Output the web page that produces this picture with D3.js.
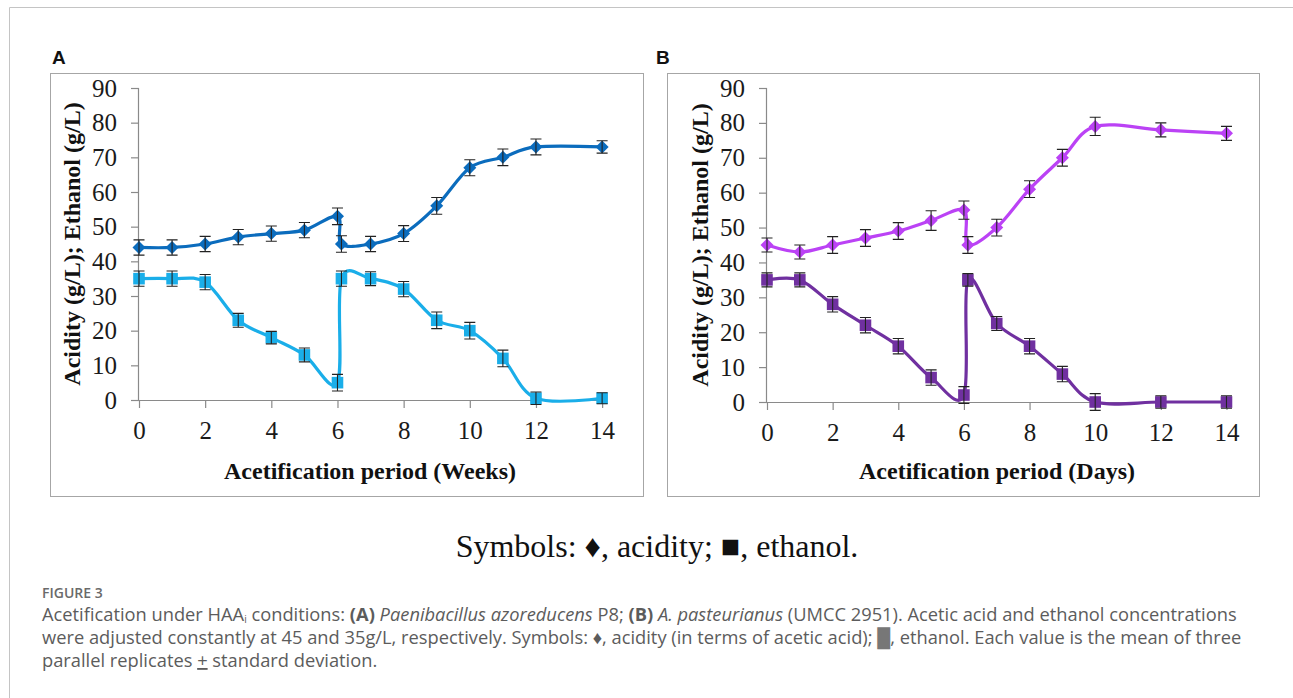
<!DOCTYPE html>
<html lang="en">
<head>
<meta charset="utf-8">
<title>Figure 3 - Acetification</title>
<script type="text/javascript" src="https://d3js.org/d3.v7.min.js"></script>
<style>
body { margin: 0; background: #fff; }
svg { display: block; }
.tick-label { font-family: "Liberation Serif", "Times New Roman", serif; font-size: 25px; fill: #1a1a1a; }
.axis-title { font-family: "Liberation Serif", "Times New Roman", serif; font-size: 24px; font-weight: bold; fill: #111; }
.panel-label { font-family: "Liberation Sans", Arial, sans-serif; font-size: 19px; font-weight: bold; fill: #111; }
.caption { font-family: "Open Sans", sans-serif; font-size: 18.3px; fill: #5c5c5c; }
</style>
</head>
<body>
<div id="chart"></div>
<script type="text/javascript">

// panel A : weeks
var weeksA     = [0, 1, 2, 3, 4, 5, 6, 6.12, 7, 8, 9, 10, 11, 12, 14];
var acidityA   = [44, 44, 45, 47, 48, 49, 53, 45, 45, 48, 56, 67, 70, 73, 73];
var acidityErrA = [2.2, 2.2, 2.2, 2.2, 2.2, 2.2, 2.4, 2.4, 2.2, 2.3, 2.4, 2.3, 2.4, 2.3, 1.8];
var ethanolA   = [35, 35, 34, 23, 18, 13, 5, 35, 35, 32, 23, 20, 12, 0.5, 0.5];
var ethanolErrA = [2.2, 2.2, 2.2, 2.0, 1.8, 2.0, 2.4, 2.2, 2.0, 2.2, 2.4, 2.4, 2.4, 1.8, 1.6];

// panel B : days
var daysB      = [0, 1, 2, 3, 4, 5, 6, 6.12, 7, 8, 9, 10, 12, 14];
var acidityB   = [45, 43, 45, 47, 49, 52, 55, 45, 50, 61, 70, 79, 78, 77];
var acidityErrB = [2.0, 2.0, 2.4, 2.4, 2.4, 2.8, 2.6, 2.4, 2.4, 2.4, 2.4, 2.6, 2.0, 2.0];
var ethanolB   = [35, 35, 28, 22, 16, 7, 2, 35, 22.5, 16, 8, 0, 0, 0];
var ethanolErrB = [2.0, 2.0, 2.2, 2.2, 2.2, 2.2, 2.4, 1.8, 2.0, 2.2, 2.2, 2.4, 1.8, 1.8];

var xTicks = [0, 2, 4, 6, 8, 10, 12, 14];
var yTicks = [0, 10, 20, 30, 40, 50, 60, 70, 80, 90];

var width = 1293, height = 698;

var svg = d3.select("#chart").append("svg")
    .attr("width", width)
    .attr("height", height);

// page frame
svg.append("path")
    .attr("d", "M9.5," + height + "V7.5H" + width)
    .attr("fill", "none")
    .attr("stroke", "#c4c4c4")
    .attr("stroke-width", 1);

var axisColor = "#8a8a8a";

function diamond(r) {
    return "M0," + (-r) + "L" + r + ",0L0," + r + "L" + (-r) + ",0Z";
}
function square(r) {
    return "M" + (-r) + "," + (-r) + "H" + r + "V" + r + "H" + (-r) + "Z";
}

function panel(opts) {
    var g = svg.append("g");

    g.append("rect")
        .attr("x", opts.box[0] + 0.5).attr("y", opts.box[1] + 0.5)
        .attr("width", opts.box[2]).attr("height", opts.box[3])
        .attr("fill", "#fff")
        .attr("stroke", "#a6a6a6");

    g.append("text")
        .attr("class", "panel-label")
        .attr("x", opts.labelX).attr("y", 64)
        .text(opts.label);

    var x = d3.scaleLinear().domain([0, 14.15]).range([opts.x0, opts.x0 + 14.15 * opts.xStep]);
    var y = d3.scaleLinear().domain([0, 90]).range([opts.y0, opts.y90]);

    var yAxis = g.append("g")
        .attr("transform", "translate(" + opts.x0 + ",0)")
        .call(d3.axisLeft(y).tickValues(yTicks).tickSize(8).tickPadding(14).tickFormat(d3.format("d")));
    var xAxis = g.append("g")
        .attr("transform", "translate(0," + opts.y0 + ")")
        .call(d3.axisBottom(x).tickValues(xTicks).tickSize(8).tickPadding(13).tickFormat(d3.format("d")));

    [xAxis, yAxis].forEach(function(a) {
        a.select(".domain").attr("stroke", axisColor).attr("stroke-width", 1.2);
        a.selectAll(".tick line").attr("stroke", axisColor).attr("stroke-width", 1.2);
        a.selectAll(".tick text").attr("class", "tick-label").attr("fill", "#1a1a1a");
    });
    // plain axis lines, no outer ticks
    xAxis.select(".domain").attr("d", "M" + x(0) + ",0.5H" + x(14.15));
    yAxis.select(".domain").attr("d", "M-0.5," + y(0) + "V" + y(90));

    g.append("text")
        .attr("class", "axis-title")
        .attr("transform", "translate(" + opts.yTitleX + "," + ((opts.y0 + opts.y90) / 2) + ") rotate(-90)")
        .attr("text-anchor", "middle")
        .text("Acidity (g/L); Ethanol (g/L)");

    g.append("text")
        .attr("class", "axis-title")
        .attr("x", opts.xTitleX).attr("y", 479)
        .attr("text-anchor", "middle")
        .text(opts.xTitle);

    var line = d3.line()
        .x(function(d) { return x(d[0]); })
        .y(function(d) { return y(d[1]); })
        .curve(d3.curveCardinal.tension(0));

    opts.series.forEach(function(s) {
        var pts = s.values.map(function(v, i) { return [opts.xs[i], v, s.err[i]]; });

        g.append("path")
            .datum(pts)
            .attr("fill", "none")
            .attr("stroke", s.color)
            .attr("stroke-width", 3.2)
            .attr("stroke-linejoin", "round")
            .attr("d", line);

        g.append("g").selectAll("path")
            .data(pts)
            .enter().append("path")
                .attr("transform", function(d) { return "translate(" + x(d[0]) + "," + y(d[1]) + ")"; })
                .attr("d", s.shape === "diamond" ? diamond(6.5) : square(5.8))
                .attr("fill", s.color);

        var bars = g.append("g")
            .attr("stroke", "#222")
            .attr("stroke-width", 1.1)
            .attr("fill", "none");
        bars.selectAll("path")
            .data(pts)
            .enter().append("path")
                .attr("d", function(d) {
                    var cx = x(d[0]), top = y(d[1] + d[2]), bot = y(d[1] - d[2]);
                    return "M" + cx + "," + top + "V" + bot +
                        "M" + (cx - 5.5) + "," + top + "H" + (cx + 5.5) +
                        "M" + (cx - 5.5) + "," + bot + "H" + (cx + 5.5);
                });
    });
}

panel({
    label: "A", labelX: 52,
    box: [50, 73, 593, 423],
    x0: 139, xStep: 33.08, y0: 400, y90: 88,
    yTitleX: 80, xTitleX: 370, xTitle: "Acetification period (Weeks)",
    xs: weeksA,
    series: [
        {values: ethanolA, err: ethanolErrA, color: "#1aaee9", shape: "square"},
        {values: acidityA, err: acidityErrA, color: "#0b6cbd", shape: "diamond"}
    ]
});

panel({
    label: "B", labelX: 656,
    box: [667, 73, 592, 423],
    x0: 767, xStep: 32.82, y0: 402, y90: 88,
    yTitleX: 708, xTitleX: 997, xTitle: "Acetification period (Days)",
    xs: daysB,
    series: [
        {values: ethanolB, err: ethanolErrB, color: "#7030a0", shape: "square"},
        {values: acidityB, err: acidityErrB, color: "#bb42f5", shape: "diamond"}
    ]
});

// symbols line
svg.append("text")
    .attr("x", 657).attr("y", 557)
    .attr("text-anchor", "middle")
    .style("font-family", "'Liberation Serif', 'Times New Roman', serif")
    .style("font-size", "32px")
    .style("fill", "#111")
    .text("Symbols: \u2666, acidity; \u25A0, ethanol.");

// caption
var capX = 42;
svg.append("text")
    .attr("class", "caption")
    .attr("x", capX).attr("y", 598)
    .style("font-size", "14px")
    .style("font-weight", "600")
    .style("fill", "#6a6a6a")
    .text("FIGURE 3");

var cap1 = svg.append("text").attr("class", "caption").attr("x", capX).attr("y", 621);
cap1.append("tspan").text("Acetification under HAA");
cap1.append("tspan").attr("dy", 2).style("font-size", "10px").text("i");
cap1.append("tspan").attr("dy", -2).text(" conditions: ");
cap1.append("tspan").style("font-weight", "bold").text("(A) ");
cap1.append("tspan").style("font-style", "italic").text("Paenibacillus azoreducens");
cap1.append("tspan").text(" P8; ");
cap1.append("tspan").style("font-weight", "bold").text("(B) ");
cap1.append("tspan").style("font-style", "italic").text("A. pasteurianus");
cap1.append("tspan").text(" (UMCC 2951). Acetic acid and ethanol concentrations");

var cap2 = svg.append("text").attr("class", "caption").attr("x", capX).attr("y", 644);
cap2.append("tspan").text("were adjusted constantly at 45 and 35g/L, respectively. Symbols: \u2666, acidity (in terms of acetic acid); ");
cap2.append("tspan").style("fill", "#777").text("\u2588");
cap2.append("tspan").text(", ethanol. Each value is the mean of three");

var cap3 = svg.append("text").attr("class", "caption").attr("x", capX).attr("y", 667);
cap3.append("tspan").text("parallel replicates ");
cap3.append("tspan").style("text-decoration", "underline").text("+");
cap3.append("tspan").text(" standard deviation.");

</script>
</body>
</html>
